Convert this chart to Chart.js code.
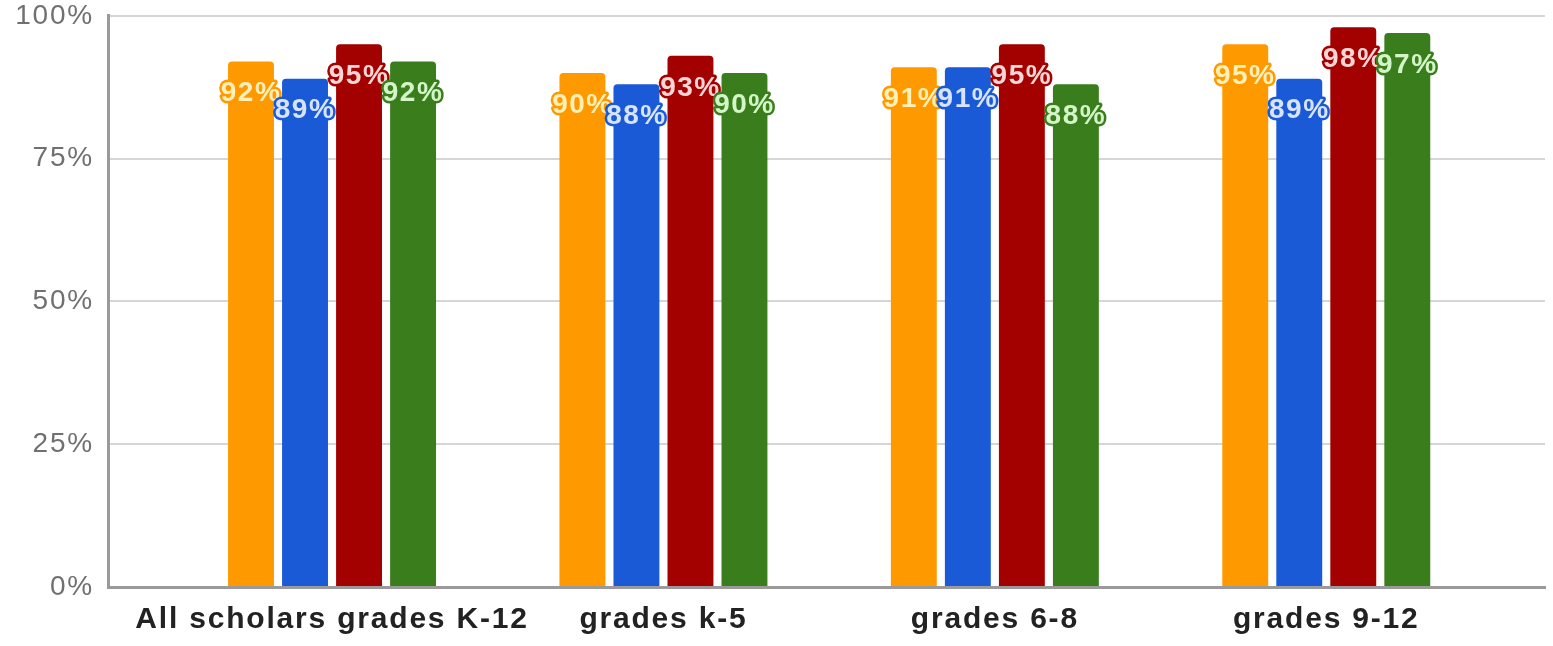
<!DOCTYPE html>
<html>
<head>
<meta charset="utf-8">
<script src="https://cdn.jsdelivr.net/npm/chart.js@4.4.1/dist/chart.umd.min.js"></script>
<style>
  html, body { margin: 0; padding: 0; background: #fff; }
  #wrap { width: 1553px; height: 646px; overflow: hidden; }
  #gradesChart { display: block; margin-top: -15px; }
</style>
</head>
<body>
<div id="wrap"><canvas id="gradesChart" width="1553" height="661"></canvas></div>
<script>
const categories = ['All scholars grades K-12', 'grades k-5', 'grades 6-8', 'grades 9-12'];
const orangeValues = [92, 90, 91, 95];
const blueValues = [89, 88, 91, 89];
const redValues = [95, 93, 95, 98];
const greenValues = [92, 90, 88, 97];
const yTicks = [0, 25, 50, 75, 100];

const barColors = ['#ff9900', '#1a5ad6', '#a30000', '#3a7d1c'];
const labelFills = ['#fff0b8', '#d6e4ff', '#ffd6d6', '#d4f5c8'];

const fontStack = "'Liberation Sans', Arial, sans-serif";

function toPoints(values) {
  return values.map((v, i) => ({ x: i, y: v }));
}

const seriesList = [orangeValues, blueValues, redValues, greenValues];

// the source picture is a bit stretched sideways, so widen the text a little
const wideText = {
  id: 'wideText',
  beforeDraw(chart) {
    chart.ctx.letterSpacing = '1.8px';
  }
};

const barLabels = {
  id: 'barLabels',
  afterDatasetsDraw(chart) {
    const ctx = chart.ctx;
    ctx.save();
    ctx.letterSpacing = '1.5px';
    ctx.font = 'bold 28px ' + fontStack;
    ctx.textAlign = 'center';
    ctx.textBaseline = 'middle';
    ctx.lineJoin = 'round';
    chart.data.datasets.forEach((ds, di) => {
      const meta = chart.getDatasetMeta(di);
      meta.data.forEach((bar, i) => {
        const text = ds.data[i].y + '%';
        const y = bar.y + 32;
        ctx.lineWidth = 5;
        ctx.strokeStyle = barColors[di];
        ctx.strokeText(text, bar.x, y);
        ctx.fillStyle = labelFills[di];
        ctx.fillText(text, bar.x, y);
      });
    });
    ctx.restore();
  }
};

const ctx = document.getElementById('gradesChart').getContext('2d');
new Chart(ctx, {
  type: 'bar',
  data: {
    datasets: seriesList.map((vals, di) => ({
      label: 'Series ' + (di + 1),
      data: toPoints(vals),
      backgroundColor: barColors[di],
      borderRadius: { topLeft: 4, topRight: 4 },
      borderSkipped: 'bottom',
      categoryPercentage: 0.652,
      barPercentage: 0.85
    }))
  },
  options: {
    responsive: false,
    animation: false,
    layout: { padding: { top: 0, right: 8, left: 0, bottom: 0 } },
    plugins: {
      legend: { display: false },
      tooltip: { enabled: false }
    },
    scales: {
      x: {
        type: 'linear',
        offset: false,
        min: -0.676,
        max: 3.66,
        grid: { display: false },
        border: { display: true, color: '#9a9a9a', width: 3 },
        afterBuildTicks: scale => {
          scale.ticks = categories.map((c, i) => ({ value: i }));
        },
        afterFit: scale => { scale.height = 59; },
        ticks: {
          padding: 7,
          color: '#222',
          font: { family: fontStack, size: 30, weight: 'bold' },
          callback: v => categories[v] ?? ''
        }
      },
      y: {
        min: 0,
        max: 100,
        afterBuildTicks: scale => {
          scale.ticks = yTicks.map(v => ({ value: v }));
        },
        afterFit: scale => { scale.width = 108; },
        grid: { color: '#d6d6d6', lineWidth: 2, drawTicks: false },
        border: { display: true, color: '#9a9a9a', width: 3 },
        ticks: {
          padding: 14,
          color: '#707070',
          font: { family: fontStack, size: 28 },
          callback: v => v + '%'
        }
      }
    }
  },
  plugins: [wideText, barLabels]
});
</script>
</body>
</html>
